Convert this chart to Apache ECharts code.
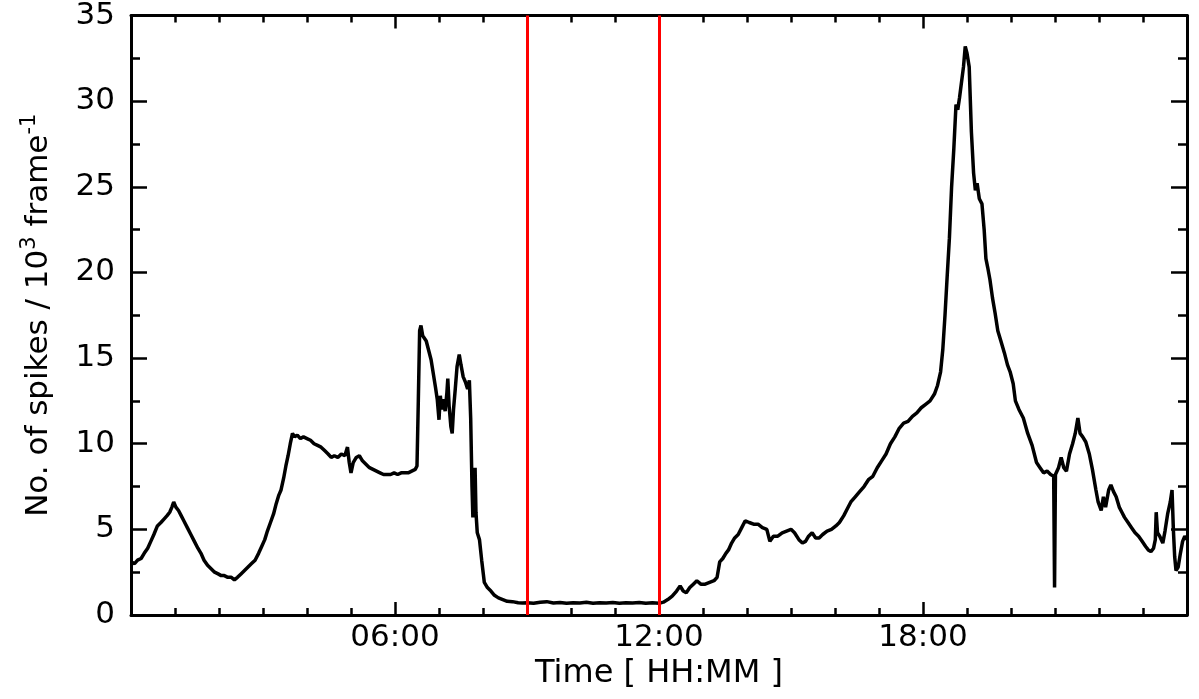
<!DOCTYPE html>
<html><head><meta charset="utf-8">
<script src="https://cdn.jsdelivr.net/npm/echarts@6/dist/echarts.min.js"></script>
<style>html,body{margin:0;padding:0;background:#fff}#c{width:1199px;height:699px}</style>
</head><body><div id="c"></div>
<script>
// Time of day in hours
const times = [
 0.00,0.08,0.15,0.23,0.30,0.38,0.45,0.52,0.60,0.68,0.75,0.82,0.88,0.93,0.97,1.02,1.08,1.14,1.20,1.28,
 1.36,1.44,1.52,1.59,1.66,1.74,1.82,1.90,1.98,2.05,2.12,2.20,2.28,2.35,2.42,2.50,2.58,2.66,2.74,2.82,
 2.90,2.97,3.04,3.10,3.17,3.24,3.30,3.36,3.41,3.47,3.52,3.57,3.62,3.67,3.72,3.78,3.85,3.92,4.00,4.08,
 4.16,4.24,4.32,4.40,4.48,4.55,4.62,4.70,4.78,4.86,4.92,4.96,5.00,5.05,5.12,5.19,5.26,5.34,5.42,5.50,
 5.58,5.66,5.74,5.82,5.90,5.98,6.06,6.14,6.22,6.30,6.38,6.46,6.50,6.53,6.56,6.59,6.63,6.67,6.71,6.76,
 6.82,6.87,6.92,6.96,7.00,7.03,7.06,7.10,7.14,7.18,7.20,7.23,7.27,7.30,7.33,7.37,7.41,7.46,7.50,7.55,
 7.60,7.65,7.69,7.72,7.75,7.77,7.80,7.82,7.84,7.87,7.92,7.97,8.03,8.10,8.18,8.26,8.35,8.45,8.55,8.67,
 8.80,8.90,9.00,9.15,9.30,9.45,9.60,9.75,9.90,10.05,10.20,10.35,10.50,10.65,10.80,10.95,11.10,11.25,11.40,11.55,
 11.70,11.85,12.00,12.10,12.20,12.30,12.40,12.48,12.55,12.62,12.70,12.78,12.86,12.90,12.95,13.05,13.15,13.25,13.32,13.38,
 13.45,13.52,13.58,13.65,13.72,13.80,13.88,13.96,14.05,14.15,14.25,14.35,14.45,14.52,14.60,14.70,14.80,14.90,15.00,15.08,
 15.18,15.26,15.33,15.40,15.48,15.56,15.64,15.72,15.82,15.92,16.02,16.10,16.20,16.28,16.36,16.46,16.56,16.66,16.76,16.86,
 16.96,17.06,17.16,17.26,17.36,17.46,17.56,17.66,17.76,17.86,17.96,18.06,18.16,18.26,18.33,18.40,18.45,18.50,18.55,18.60,
 18.65,18.70,18.75,18.79,18.83,18.87,18.92,18.96,19.00,19.05,19.10,19.15,19.19,19.23,19.28,19.34,19.39,19.43,19.47,19.52,
 19.58,19.64,19.70,19.77,19.85,19.92,19.98,20.05,20.10,20.18,20.28,20.38,20.48,20.58,20.66,20.74,20.82,20.90,20.97,20.99,
 21.01,21.08,21.14,21.20,21.26,21.33,21.40,21.46,21.52,21.57,21.63,21.70,21.78,21.85,21.93,21.98,22.05,22.10,22.15,22.22,
 22.27,22.33,22.39,22.46,22.52,22.58,22.66,22.74,22.82,22.90,22.98,23.06,23.12,23.18,23.24,23.28,23.30,23.33,23.38,23.45,
 23.50,23.56,23.62,23.66,23.69,23.72,23.75,23.80,23.85,23.90,23.95,24.00
];
// No. of spikes / 10^3 frame^-1
const spikes = [
 3.1,3.0,3.2,3.3,3.6,3.9,4.3,4.7,5.2,5.4,5.6,5.8,6.0,6.3,6.6,6.3,6.1,5.8,5.5,5.1,
 4.7,4.3,3.9,3.6,3.2,2.9,2.7,2.5,2.4,2.3,2.3,2.2,2.2,2.05,2.2,2.4,2.6,2.8,3.0,3.2,
 3.6,4.0,4.4,4.9,5.4,5.9,6.5,7.0,7.3,8.0,8.7,9.3,10.0,10.6,10.4,10.5,10.3,10.4,10.3,10.2,
 10.0,9.9,9.8,9.6,9.4,9.2,9.3,9.2,9.4,9.3,9.8,8.9,8.3,8.9,9.2,9.3,9.0,8.8,8.6,8.5,
 8.4,8.3,8.2,8.2,8.2,8.3,8.2,8.3,8.3,8.3,8.4,8.5,8.7,12.5,16.6,16.9,16.3,16.4,16.0,15.5,
 14.9,14.1,13.3,12.6,11.4,12.8,12.0,12.6,11.9,13.0,13.8,12.2,11.0,10.6,12.0,13.2,14.5,15.2,14.6,13.9,
 13.6,13.2,13.7,11.5,7.5,5.7,6.5,8.6,6.0,4.8,4.4,3.2,1.9,1.6,1.4,1.15,1.0,0.9,0.8,0.78,
 0.72,0.7,0.72,0.68,0.74,0.78,0.7,0.73,0.68,0.72,0.7,0.74,0.69,0.72,0.7,0.73,0.68,0.72,0.7,0.73,
 0.68,0.71,0.68,0.75,0.9,1.1,1.4,1.7,1.4,1.3,1.6,1.8,2.0,2.1,1.8,1.8,1.9,2.0,2.2,3.1,
 3.3,3.6,3.8,4.2,4.5,4.7,5.1,5.5,5.4,5.3,5.3,5.1,5.0,4.3,4.6,4.6,4.8,4.9,5.0,4.8,
 4.4,4.2,4.3,4.6,4.8,4.5,4.5,4.7,4.9,5.0,5.2,5.4,5.8,6.2,6.6,6.9,7.2,7.5,7.9,8.1,
 8.6,9.0,9.4,10.0,10.4,10.9,11.2,11.3,11.6,11.8,12.1,12.3,12.5,12.9,13.4,14.2,15.5,17.5,19.8,22.0,
 25.0,27.2,29.8,29.5,30.2,31.0,32.0,33.2,32.8,32.0,28.2,25.8,24.8,25.2,24.3,24.0,22.5,20.8,20.3,19.6,
 18.5,17.6,16.6,16.0,15.3,14.6,14.2,13.5,12.5,12.0,11.5,10.6,9.9,8.9,8.6,8.3,8.4,8.2,8.1,1.6,
 8.2,8.6,9.2,8.6,8.4,9.4,10.0,10.6,11.5,10.6,10.4,10.1,9.4,8.5,7.3,6.6,6.1,6.9,6.3,7.3,
 7.6,7.2,6.9,6.3,6.0,5.7,5.4,5.1,4.8,4.6,4.3,4.0,3.8,3.7,3.9,4.4,6.0,4.8,4.6,4.2,
 4.9,5.9,6.6,7.3,5.0,3.4,2.6,2.8,3.6,4.3,4.6,4.4
];
const markerTimes = [9, 12];
const xTickLabels = {6: '06:00', 12: '12:00', 18: '18:00'};
const xName = 'Time [ HH:MM ]';

const FONT = 'DejaVu Sans';
const FS = 31;
const data = times.map((t, i) => [t, spikes[i]]);

function xAx(pos, showLabel) {
  return {
    type: 'value', min: 0, max: 24, interval: 6, position: pos,
    axisLine: {show: true, onZero: false, lineStyle: {color: '#000', width: 3}},
    axisTick: {show: true, inside: true, length: 13, lineStyle: {color: '#000', width: 2.5}},
    minorTick: {show: true, splitNumber: 6, length: 7, lineStyle: {color: '#000', width: 2.5}},
    splitLine: {show: false}, minorSplitLine: {show: false},
    axisLabel: {show: showLabel, formatter: v => xTickLabels[v] || '', color: '#000',
      fontSize: FS, fontFamily: FONT, margin: 7},
    name: showLabel ? xName : '', nameLocation: 'middle', nameGap: 41,
    nameTextStyle: {color: '#000', fontSize: FS + 1, fontFamily: FONT}
  };
}
function yAx(pos, showLabel) {
  return {
    type: 'value', min: 0, max: 35, interval: 5, position: pos,
    axisLine: {show: true, onZero: false, lineStyle: {color: '#000', width: 3}},
    axisTick: {show: true, inside: true, length: 16, lineStyle: {color: '#000', width: 2.5}},
    minorTick: {show: true, splitNumber: 2, length: 9, lineStyle: {color: '#000', width: 2.5}},
    splitLine: {show: false}, minorSplitLine: {show: false},
    axisLabel: {show: showLabel, color: '#000', fontSize: FS, fontFamily: FONT, margin: 16},
    name: showLabel ? 'No. of spikes / 10{sup|3} frame{sup|-1}' : '',
    nameLocation: 'middle', nameGap: 72,
    nameTextStyle: {color: '#000', fontSize: FS, fontFamily: FONT, lineHeight: 40,
      rich: {sup: {fontSize: 21, lineHeight: 21, fontFamily: FONT, color: '#000', verticalAlign: 'top'}}}
  };
}

const chart = echarts.init(document.getElementById('c'), null, {renderer: 'canvas'});
chart.setOption({
  animation: false,
  backgroundColor: '#fff',
  grid: {left: 131, right: 12, top: 14, bottom: 84},
  xAxis: [xAx('bottom', true), xAx('top', false)],
  yAxis: [yAx('left', true), yAx('right', false)],
  series: [{
    type: 'line', data: data, xAxisIndex: 0, yAxisIndex: 0,
    showSymbol: false, symbol: 'none',
    lineStyle: {color: '#000', width: 3.5}, z: 2,
    markLine: {
      symbol: 'none', silent: true, animation: false,
      label: {show: false},
      lineStyle: {color: '#ff0000', width: 3, type: 'solid'},
      data: markerTimes.map(t => ({xAxis: t}))
    }
  }]
});
</script></body></html>
